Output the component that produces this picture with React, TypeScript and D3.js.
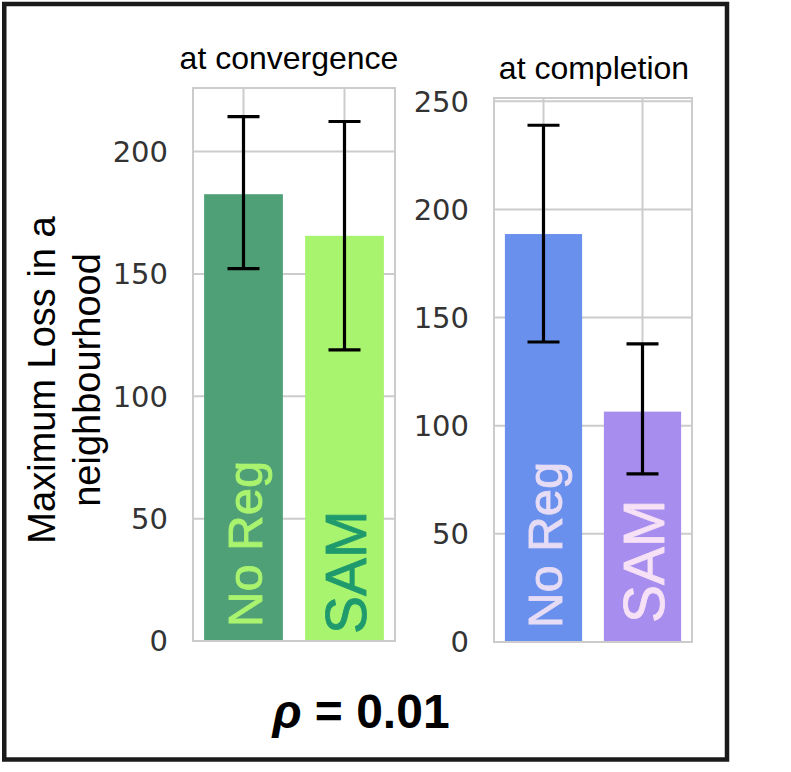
import React from "react";
import * as d3 from "d3";

// values
const methods = ["No Reg", "SAM"];
const panelTitles = ["at convergence", "at completion"];

const convMean = [182.6, 165.6];
const convLow = [152.2, 119.0];
const convHigh = [214.3, 212.3];

const compMean = [188.6, 106.5];
const compLow = [138.7, 77.7];
const compHigh = [238.9, 137.8];

const convTicks = [0, 50, 100, 150, 200];
const compTicks = [0, 50, 100, 150, 200, 250];

const convBarColors = ["#4fa077", "#a8f46f"];
const convTextColors = ["#a9f36f", "#1f9a6d"];
const compBarColors = ["#6a90ee", "#a78ded"];
const compTextColors = ["#e7dcf5", "#f6e1f6"];

const W = 791;
const H = 772;
const GRID = "#cccccc";

type PanelProps = {
	title: string;
	titleShift: number;
	left: number;
	right: number;
	top: number;
	bottom: number;
	yMax: number;
	ticks: number[];
	mean: number[];
	low: number[];
	high: number[];
	barColors: string[];
	textColors: string[];
	samOffset: number;
};

const Panel = (p: PanelProps) => {
	const x = d3.scaleLinear().domain([-0.5, 1.5]).range([p.left, p.right]);
	const y = d3.scaleLinear().domain([0, p.yMax]).range([p.bottom, p.top]);
	const barW = x(0.39) - x(0);
	const capW = 16;
	return (
		<g>
			{/* grid */}
			{p.ticks.map((t) => (
				<line key={"h" + t} x1={p.left} x2={p.right} y1={y(t)} y2={y(t)} stroke={GRID} strokeWidth={2} />
			))}
			{methods.map((m, i) => (
				<line key={"v" + m} x1={x(i)} x2={x(i)} y1={p.top} y2={p.bottom} stroke={GRID} strokeWidth={2} />
			))}
			{/* bars */}
			{methods.map((m, i) => (
				<rect
					key={"b" + m}
					x={x(i) - barW}
					width={barW * 2}
					y={y(p.mean[i])}
					height={p.bottom - y(p.mean[i])}
					fill={p.barColors[i]}
				/>
			))}
			{/* spines */}
			<rect x={p.left} y={p.top} width={p.right - p.left} height={p.bottom - p.top} fill="none" stroke={GRID} strokeWidth={2} />
			{/* labels inside bars */}
			{methods.map((m, i) => {
				const fs = i === 0 ? 49 : 57;
				const bx = x(i) + fs * 0.716 / 2 + 1;
				const by = p.bottom - (i === 0 ? 14 : p.samOffset);
				return (
					<text
						key={"t" + m}
						transform={`translate(${bx},${by}) rotate(-90)`}
						fontFamily="'Liberation Sans', Arial, sans-serif"
						fontSize={fs}
						fill={p.textColors[i]}
						stroke={p.textColors[i]}
						strokeWidth={0.8}
					>
						{m}
					</text>
				);
			})}
			{/* error bars */}
			{methods.map((m, i) => (
				<g key={"e" + m} stroke="#000" strokeWidth={3.2}>
					<line x1={x(i)} x2={x(i)} y1={y(p.high[i])} y2={y(p.low[i])} />
					<line x1={x(i) - capW} x2={x(i) + capW} y1={y(p.high[i])} y2={y(p.high[i])} />
					<line x1={x(i) - capW} x2={x(i) + capW} y1={y(p.low[i])} y2={y(p.low[i])} />
				</g>
			))}
			{/* tick labels */}
			{p.ticks.map((t) => (
				<text
					key={"l" + t}
					x={p.left - 25}
					y={y(t)}
					dy="0.36em"
					textAnchor="end"
					fontFamily="'DejaVu Sans', sans-serif"
					fontSize={29}
					fill="#333"
				>
					{t}
				</text>
			))}
			<text
				x={(p.left + p.right) / 2 + p.titleShift}
				y={p.top - 19}
				textAnchor="middle"
				fontFamily="'Liberation Sans', Arial, sans-serif"
				fontSize={32}
				fill="#000"
			>
				{p.title}
			</text>
		</g>
	);
};

export default function App() {
	return (
		<svg width={W} height={H} style={{ position: "absolute", left: 0, top: 0, background: "#fff" }}>
			<rect x={0} y={0} width={W} height={H} fill="#fff" />
			<rect x={4.25} y={4} width={722.75} height={755.5} fill="none" stroke="#1a1a1a" strokeWidth={4.5} />
			<Panel
				title={panelTitles[0]}
				titleShift={-5}
				left={193}
				right={395}
				top={88}
				bottom={641}
				yMax={226}
				ticks={convTicks}
				mean={convMean}
				low={convLow}
				high={convHigh}
				barColors={convBarColors}
				textColors={convTextColors}
				samOffset={7}
			/>
			<Panel
				title={panelTitles[1]}
				titleShift={1}
				left={494}
				right={692}
				top={98}
				bottom={642}
				yMax={251.5}
				ticks={compTicks}
				mean={compMean}
				low={compLow}
				high={compHigh}
				barColors={compBarColors}
				textColors={compTextColors}
				samOffset={19}
			/>
			<text
				transform="translate(55,380) rotate(-90)"
				textAnchor="middle"
				fontFamily="'Liberation Sans', Arial, sans-serif"
				fontSize={38}
				fill="#000"
			>
				Maximum Loss in a
			</text>
			<text
				transform="translate(100,380) rotate(-90)"
				textAnchor="middle"
				fontFamily="'Liberation Sans', Arial, sans-serif"
				fontSize={38}
				fill="#000"
			>
				neighbourhood
			</text>
			<text
				x={361}
				y={728}
				textAnchor="middle"
				fontFamily="'Liberation Sans', Arial, sans-serif"
				fontSize={48}
				fontWeight="bold"
				fill="#000"
			>
				<tspan fontStyle="italic">ρ</tspan> = 0.01
			</text>
		</svg>
	);
}
